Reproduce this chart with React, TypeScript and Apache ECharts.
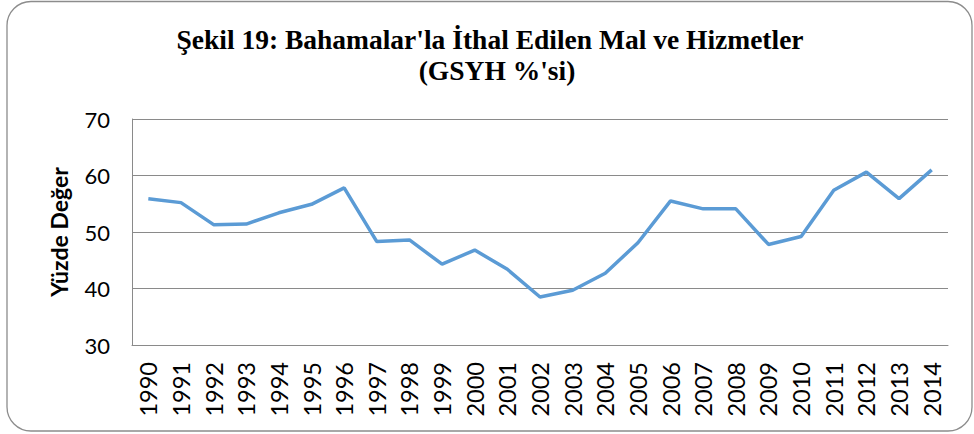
import React, { useEffect, useRef } from "react";
import * as echarts from "echarts";

const years = [
  "1990", "1991", "1992", "1993", "1994", "1995", "1996", "1997", "1998", "1999",
  "2000", "2001", "2002", "2003", "2004", "2005", "2006", "2007", "2008", "2009",
  "2010", "2011", "2012", "2013", "2014",
];
const importsPctGdp = [
  55.9, 55.2, 51.3, 51.4, 53.4, 54.9, 57.8, 48.3, 48.6, 44.3,
  46.8, 43.4, 38.5, 39.7, 42.7, 48.1, 55.5, 54.1, 54.1, 47.8,
  49.2, 57.4, 60.6, 55.9, 61.0,
];
const titleLine1 = "Şekil 19: Bahamalar'la İthal Edilen Mal ve Hizmetler";
const titleLine2 = "(GSYH %'si)";
const yAxisName = "Yüzde Değer";
const yMin = 30;
const yMax = 70;
const yStep = 10;

export default function App() {
  const ref = useRef<HTMLDivElement>(null);
  useEffect(() => {
    if (!ref.current) return;
    const chart = echarts.init(ref.current, null, { renderer: "svg" });
    chart.setOption({
      animation: false,
      backgroundColor: "#ffffff",
      graphic: [
        {
          type: "rect",
          shape: { x: 7, y: 1.5, width: 965, height: 429.5, r: 24 },
          style: { fill: "none", stroke: "#8c8c8c", lineWidth: 1.3 },
          silent: true,
        },
        {
          type: "text",
          x: 490,
          y: 39,
          style: {
            text: titleLine1,
            font: "bold 27.5px 'Liberation Serif', 'Times New Roman', serif",
            fill: "#000",
            align: "center",
            verticalAlign: "middle",
          },
        },
        {
          type: "text",
          x: 497,
          y: 70,
          style: {
            text: titleLine2,
            font: "bold 27.5px 'Liberation Serif', 'Times New Roman', serif",
            fill: "#000",
            align: "center",
            verticalAlign: "middle",
          },
        },
      ],
      grid: { left: 132, right: 26, top: 119, bottom: 89, containLabel: false },
      xAxis: {
        type: "category",
        data: years,
        boundaryGap: true,
        axisLine: { show: true, lineStyle: { color: "#8a8a8a", width: 1 } },
        axisTick: { show: false },
        axisLabel: {
          rotate: 90,
          margin: 17,
          interval: 0,
          fontFamily: "Lato",
          fontSize: 23.5,
          color: "#000",
        },
      },
      yAxis: {
        type: "value",
        min: yMin,
        max: yMax,
        interval: yStep,
        name: yAxisName,
        nameLocation: "middle",
        nameRotate: 90,
        nameGap: 62,
        nameTextStyle: {
          fontFamily: "Lato",
          fontWeight: "bold",
          fontSize: 23,
          color: "#000",
        },
        axisLine: { show: true, lineStyle: { color: "#8a8a8a", width: 1 } },
        axisTick: { show: false },
        splitLine: { show: true, lineStyle: { color: "#8a8a8a", width: 1 } },
        axisLabel: {
          margin: 22,
          fontFamily: "Lato",
          fontSize: 22,
          color: "#000",
        },
      },
      series: [
        {
          type: "line",
          data: importsPctGdp,
          symbol: "none",
          lineStyle: { color: "#5b9bd5", width: 3.5 },
          itemStyle: { color: "#5b9bd5" },
        },
      ],
    });
    return () => chart.dispose();
  }, []);
  return (
    <div
      ref={ref}
      style={{ position: "absolute", left: 0, top: 0, width: 974, height: 434 }}
    />
  );
}
